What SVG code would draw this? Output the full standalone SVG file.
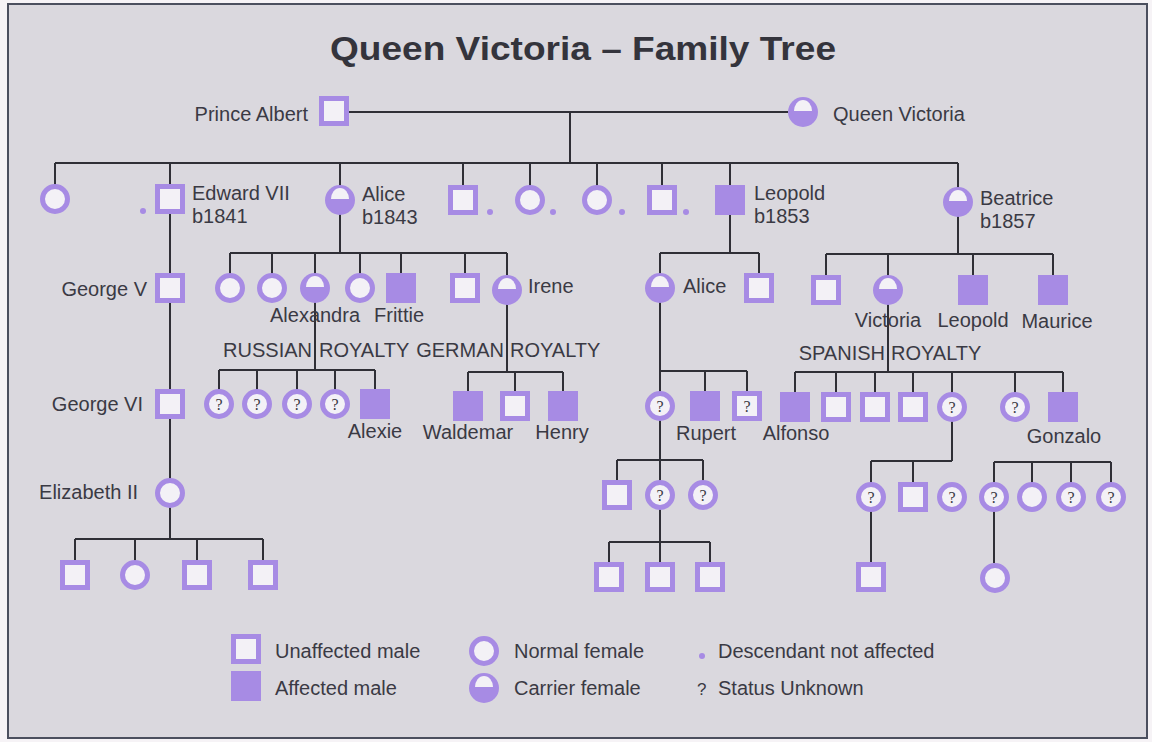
<svg xmlns="http://www.w3.org/2000/svg" width="1152" height="742" viewBox="0 0 1152 742">
<style>
.ln{stroke:#2f2f36;stroke-width:2;fill:none}
.sq{fill:#f3f1f6;stroke:#a78be4;stroke-width:5}
.af{fill:#a78be4}
.nf{fill:#f3f1f6;stroke:#a78be4;stroke-width:5}
.dome{fill:#f3f1f6}
.t{font-family:"Liberation Sans",Arial,sans-serif;font-size:20px;fill:#3a3a44}
.m{text-anchor:middle}
.e{text-anchor:end}
.q{font-family:"Liberation Serif","Times New Roman",serif;font-size:16px;fill:#3a3a44;text-anchor:middle}
.title{font-family:"Liberation Sans",Arial,sans-serif;font-size:34px;font-weight:bold;fill:#34343c;text-anchor:middle}
</style>
<defs>
<rect id="sqU" x="-12.5" y="-12.5" width="25" height="25" class="sq"/>
<rect id="sqA" x="-15" y="-15" width="30" height="30" class="af"/>
<circle id="fN" r="12.5" class="nf"/>
<g id="fC"><circle r="15" class="af"/><path d="M-9,-1 A9,11 0 0 1 9,-1 Z" class="dome"/></g>
<g id="fQ"><circle r="12.5" class="nf"/><text y="5.5" class="q">?</text></g>
<g id="sQ"><rect x="-12.5" y="-12.5" width="25" height="25" class="sq"/><text y="5.5" class="q">?</text></g>
<circle id="dot" r="3" class="af"/>
</defs>
<rect x="0" y="0" width="1152" height="742" fill="#f6f3f6"/>
<rect x="8" y="4" width="1139" height="734" fill="#dad8de" stroke="#4b4f5e" stroke-width="2"/>
<text class="title" x="583" y="60" textLength="506" lengthAdjust="spacingAndGlyphs">Queen Victoria – Family Tree</text>

<g id="connectors">
<path class="ln" d="M349,112 H788 M570,112 V163 M55,163 H958"/>
<path class="ln" d="M55,163 V186 M170,163 V539 M340,163 V253 M463,163 V187 M530,163 V187 M597,163 V187 M662,163 V187 M730,163 V253 M958,163 V254"/>
<path class="ln" d="M75,539 H263 M75,539 V562 M135,539 V562 M197,539 V562 M263,539 V562"/>
<path class="ln" d="M230,253 H507 M230,253 V275 M272,253 V275 M315,253 V275 M360,253 V275 M401,253 V275 M465,253 V275 M507,253 V275"/>
<path class="ln" d="M315,300 V370 M219,370 H375 M219,370 V391 M257,370 V391 M297,370 V391 M335,370 V391 M375,370 V391"/>
<path class="ln" d="M507,300 V372 M468,372 H563 M468,372 V391 M515,372 V391 M563,372 V391"/>
<path class="ln" d="M660,253 H759 M660,253 V275 M759,253 V275"/>
<path class="ln" d="M660,300 V562 M660,371 H747 M705,371 V391 M747,371 V393"/>
<path class="ln" d="M617,460 H703 M617,460 V482 M703,460 V482"/>
<path class="ln" d="M609,542 H710 M609,542 V562 M710,542 V562"/>
<path class="ln" d="M826,254 H1053 M826,254 V277 M888,254 V277 M973,254 V277 M1053,254 V277"/>
<path class="ln" d="M888,300 V372 M795,372 H1063 M795,372 V392 M836,372 V394 M875,372 V394 M913,372 V394 M952,372 V394 M1015,372 V394 M1063,372 V392"/>
<path class="ln" d="M952,407 V461 M871,461 H952 M871,461 V562 M913,461 V484"/>
<path class="ln" d="M994,462 H1111 M994,462 V563 M1032,462 V484 M1071,462 V484 M1111,462 V484"/>
</g>

<g id="n-albert"><use href="#sqU" x="334" y="111"/><text class="t e" x="308" y="121">Prince Albert</text></g>
<g id="n-victoria"><use href="#fC" x="803" y="112"/><text class="t" x="833" y="121">Queen Victoria</text></g>
<g id="n-c1"><use href="#fN" x="55" y="199"/></g>
<g id="n-edward"><use href="#dot" x="143" y="211"/><use href="#sqU" x="170" y="199"/><text class="t" x="192" y="200">Edward VII</text><text class="t" x="192" y="223">b1841</text></g>
<g id="n-alice"><use href="#fC" x="340" y="200"/><text class="t" x="362" y="201">Alice</text><text class="t" x="362" y="224">b1843</text></g>
<g id="n-c4"><use href="#sqU" x="463" y="200"/><use href="#dot" x="490" y="212"/></g>
<g id="n-c5"><use href="#fN" x="530" y="200"/><use href="#dot" x="553" y="212"/></g>
<g id="n-c6"><use href="#fN" x="597" y="200"/><use href="#dot" x="622" y="212"/></g>
<g id="n-c7"><use href="#sqU" x="662" y="200"/><use href="#dot" x="686" y="212"/></g>
<g id="n-leopold"><use href="#sqA" x="730" y="200"/><text class="t" x="754" y="200">Leopold</text><text class="t" x="754" y="223">b1853</text></g>
<g id="n-beatrice"><use href="#fC" x="958" y="202"/><text class="t" x="980" y="205">Beatrice</text><text class="t" x="980" y="228">b1857</text></g>

<g id="n-georgev"><use href="#sqU" x="170" y="288"/><text class="t e" x="147" y="296">George V</text></g>
<g id="n-georgevi"><use href="#sqU" x="170" y="404"/><text class="t e" x="143" y="411">George VI</text></g>
<g id="n-elizabeth"><use href="#fN" x="170" y="493"/><text class="t e" x="138" y="499">Elizabeth II</text></g>
<g id="n-e1"><use href="#sqU" x="75" y="575"/></g>
<g id="n-e2"><use href="#fN" x="135" y="575"/></g>
<g id="n-e3"><use href="#sqU" x="197" y="575"/></g>
<g id="n-e4"><use href="#sqU" x="263" y="575"/></g>

<g id="n-a1"><use href="#fN" x="230" y="288"/></g>
<g id="n-a2"><use href="#fN" x="272" y="288"/></g>
<g id="n-alexandra"><use href="#fC" x="315" y="288"/><text class="t m" x="315" y="322">Alexandra</text></g>
<g id="n-a4"><use href="#fN" x="360" y="288"/></g>
<g id="n-frittie"><use href="#sqA" x="401" y="288"/><text class="t m" x="399" y="322">Frittie</text></g>
<g id="n-a6"><use href="#sqU" x="465" y="288"/></g>
<g id="n-irene"><use href="#fC" x="507" y="290"/><text class="t" x="528" y="293">Irene</text></g>

<g id="l-russian"><text class="t e" x="312" y="357">RUSSIAN</text><text class="t" x="319" y="357">ROYALTY</text></g>
<g id="l-german"><text class="t e" x="504" y="357">GERMAN</text><text class="t" x="510" y="357">ROYALTY</text></g>
<g id="n-r1"><use href="#fQ" x="219" y="404"/></g>
<g id="n-r2"><use href="#fQ" x="257" y="404"/></g>
<g id="n-r3"><use href="#fQ" x="297" y="404"/></g>
<g id="n-r4"><use href="#fQ" x="335" y="404"/></g>
<g id="n-alexie"><use href="#sqA" x="375" y="404"/><text class="t m" x="375" y="438">Alexie</text></g>
<g id="n-waldemar"><use href="#sqA" x="468" y="406"/><text class="t m" x="468" y="439">Waldemar</text></g>
<g id="n-g2"><use href="#sqU" x="515" y="406"/></g>
<g id="n-henry"><use href="#sqA" x="563" y="406"/><text class="t m" x="562" y="439">Henry</text></g>

<g id="n-alice2"><use href="#fC" x="660" y="288"/><text class="t" x="683" y="293">Alice</text></g>
<g id="n-l2"><use href="#sqU" x="759" y="288"/></g>
<g id="n-al1"><use href="#fQ" x="660" y="406"/></g>
<g id="n-rupert"><use href="#sqA" x="705" y="406"/><text class="t m" x="706" y="440">Rupert</text></g>
<g id="n-al3"><use href="#sQ" x="747" y="406"/></g>
<g id="n-ag1"><use href="#sqU" x="617" y="495"/></g>
<g id="n-ag2"><use href="#fQ" x="660" y="495"/></g>
<g id="n-ag3"><use href="#fQ" x="703" y="495"/></g>
<g id="n-ah1"><use href="#sqU" x="609" y="577"/></g>
<g id="n-ah2"><use href="#sqU" x="660" y="577"/></g>
<g id="n-ah3"><use href="#sqU" x="710" y="577"/></g>

<g id="n-b1"><use href="#sqU" x="826" y="290"/></g>
<g id="n-victoria2"><use href="#fC" x="888" y="290"/><text class="t m" x="888" y="327">Victoria</text></g>
<g id="n-leopold2"><use href="#sqA" x="973" y="290"/><text class="t m" x="973" y="327">Leopold</text></g>
<g id="n-maurice"><use href="#sqA" x="1053" y="290"/><text class="t m" x="1057" y="328">Maurice</text></g>
<g id="l-spanish"><text class="t e" x="885" y="360">SPANISH</text><text class="t" x="891" y="360">ROYALTY</text></g>
<g id="n-alfonso"><use href="#sqA" x="795" y="407"/><text class="t m" x="796" y="440">Alfonso</text></g>
<g id="n-s2"><use href="#sqU" x="836" y="407"/></g>
<g id="n-s3"><use href="#sqU" x="875" y="407"/></g>
<g id="n-s4"><use href="#sqU" x="913" y="407"/></g>
<g id="n-s5"><use href="#fQ" x="952" y="407"/></g>
<g id="n-s6"><use href="#fQ" x="1015" y="407"/></g>
<g id="n-gonzalo"><use href="#sqA" x="1063" y="407"/><text class="t m" x="1064" y="443">Gonzalo</text></g>
<g id="n-t1"><use href="#fQ" x="871" y="497"/></g>
<g id="n-t2"><use href="#sqU" x="913" y="497"/></g>
<g id="n-t3"><use href="#fQ" x="952" y="497"/></g>
<g id="n-u1"><use href="#fQ" x="994" y="497"/></g>
<g id="n-u2"><use href="#fN" x="1032" y="497"/></g>
<g id="n-u3"><use href="#fQ" x="1071" y="497"/></g>
<g id="n-u4"><use href="#fQ" x="1111" y="497"/></g>
<g id="n-v1"><use href="#sqU" x="871" y="577"/></g>
<g id="n-v2"><use href="#fN" x="995" y="578"/></g>

<g id="legend">
<use href="#sqU" x="246" y="649"/>
<text class="t" x="275" y="658">Unaffected male</text>
<use href="#sqA" x="246" y="686"/>
<text class="t" x="275" y="695">Affected male</text>
<use href="#fN" x="484" y="651"/>
<text class="t" x="514" y="658">Normal female</text>
<use href="#fC" x="484" y="688"/>
<text class="t" x="514" y="695">Carrier female</text>
<use href="#dot" x="702" y="656"/>
<text class="t" x="718" y="658">Descendant not affected</text>
<text class="t" x="697" y="695" style="font-size:17px">?</text>
<text class="t" x="718" y="695">Status Unknown</text>
</g>
</svg>
